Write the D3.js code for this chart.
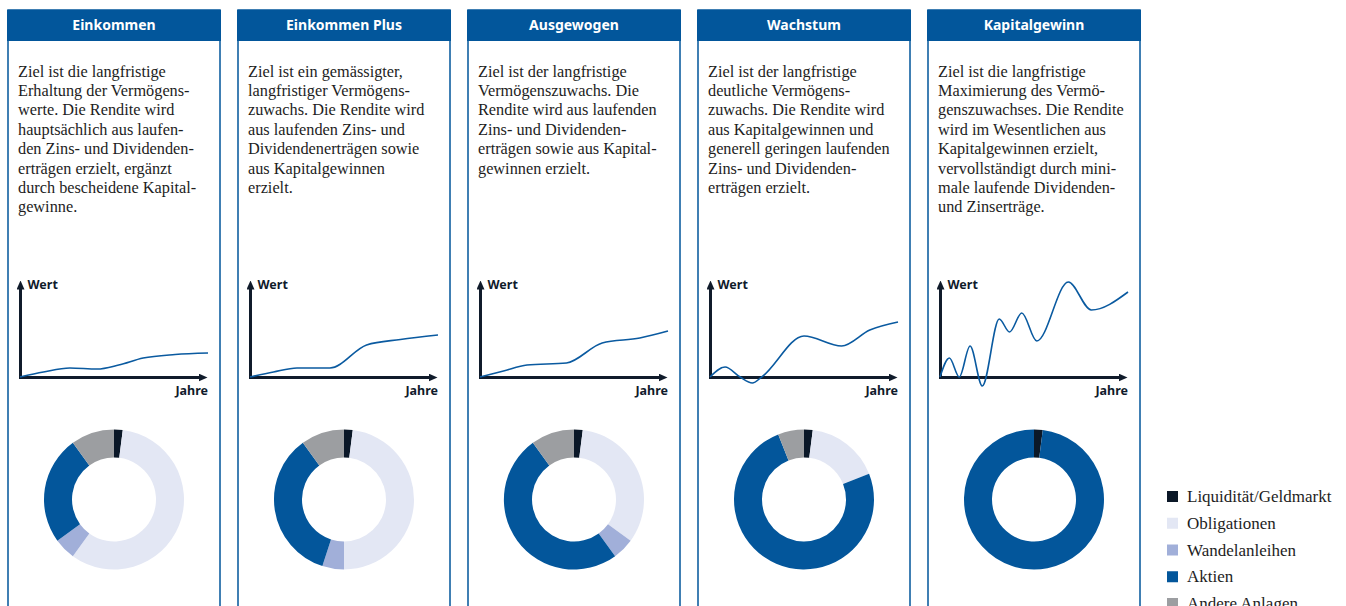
<!DOCTYPE html>
<html>
<head>
<meta charset="utf-8">
<script src="https://cdn.jsdelivr.net/npm/d3@7/dist/d3.min.js"></script>
<style>
    body { margin: 0; background: #fff; }
    svg { display: block; }
</style>
</head>
<body>
<svg id="chart"></svg>
<script>
// fund names
var funds = ['Einkommen', 'Einkommen Plus', 'Ausgewogen', 'Wachstum', 'Kapitalgewinn'];

// description lines (hyphenated as in the original)
var texts = [
    ['Ziel ist die langfristige', 'Erhaltung der Vermögens-', 'werte. Die Rendite wird', 'hauptsächlich aus laufen-',
     'den Zins- und Dividenden-', 'erträgen erzielt, ergänzt', 'durch bescheidene Kapital-', 'gewinne.'],
    ['Ziel ist ein gemässigter,', 'langfristiger Vermögens-', 'zuwachs. Die Rendite wird', 'aus laufenden Zins- und',
     'Dividendenerträgen sowie', 'aus Kapitalgewinnen', 'erzielt.'],
    ['Ziel ist der langfristige', 'Vermögenszuwachs. Die', 'Rendite wird aus laufenden', 'Zins- und Dividenden-',
     'erträgen sowie aus Kapital-', 'gewinnen erzielt.'],
    ['Ziel ist der langfristige', 'deutliche Vermögens-', 'zuwachs. Die Rendite wird', 'aus Kapitalgewinnen und',
     'generell geringen laufenden', 'Zins- und Dividenden-', 'erträgen erzielt.'],
    ['Ziel ist die langfristige', 'Maximierung des Vermö-', 'genszuwachses. Die Rendite', 'wird im Wesentlichen aus',
     'Kapitalgewinnen erzielt,', 'vervollständigt durch mini-', 'male laufende Dividenden-', 'und Zinserträge.']
];

// value curves: years and value per fund
var einkommenYears = [0, 2.5, 5.3, 8.2, 10.5, 13.1, 16.5, 20];
var einkommenValues = [0, 5, 9, 8, 12, 19, 22.5, 24];
var plusYears = [0, 2.5, 5, 8.5, 12.4, 16, 20];
var plusValues = [0, 5, 9, 9, 32, 37.5, 42];
var ausgewogenYears = [0, 2.5, 5, 9.2, 13, 17, 20];
var ausgewogenValues = [0, 6, 12, 14, 34, 39, 46];
var wachstumYears = [0, 1.6, 3.2, 4.5, 5.5, 10, 14, 17, 20];
var wachstumValues = [0, 10, 0, -6, 0, 41, 31, 47, 55];
var kapitalYears = [0, 1, 2.05, 3.2, 4.5, 6.3, 7.4, 8.7, 10.3, 13.65, 16.1, 20];
var kapitalValues = [0, 19, 0, 31, -9, 58, 45, 64, 36, 95, 67, 85];

var curveYears = [einkommenYears, plusYears, ausgewogenYears, wachstumYears, kapitalYears];
var curveValues = [einkommenValues, plusValues, ausgewogenValues, wachstumValues, kapitalValues];

// asset allocation in percent
var categories = ['Liquidität/Geldmarkt', 'Obligationen', 'Wandelanleihen', 'Aktien', 'Andere Anlagen'];
var colors = ['#0b1828', '#e3e7f4', '#a1afd9', '#03569b', '#9c9ea1'];
var allocEinkommen = [2, 58, 5, 25, 10];
var allocPlus = [2, 48, 5, 35, 10];
var allocAusgewogen = [2, 33, 5, 50, 10];
var allocWachstum = [2, 17, 0, 75, 6];
var allocKapital = [2, 0, 0, 98, 0];
var allocations = [allocEinkommen, allocPlus, allocAusgewogen, allocWachstum, allocKapital];

var width = 1346, height = 606;
var blue = '#02569b';
var dark = '#101b2b';

var svg = d3.select('#chart')
    .attr('width', width)
    .attr('height', height);

var defs = svg.append('defs');
defs.append('marker')
    .attr('id', 'arrow')
    .attr('viewBox', '0 0 9 8')
    .attr('refX', 1)
    .attr('refY', 4)
    .attr('markerWidth', 9)
    .attr('markerHeight', 8)
    .attr('markerUnits', 'userSpaceOnUse')
    .attr('orient', 'auto')
    .append('path')
    .attr('d', 'M0,0L9,4L0,8Z')
    .attr('fill', dark);

// scales shared by all panels (local panel coords)
var x = d3.scaleLinear().domain([0, 20]).range([13, 201]);
var y = d3.scaleLinear().domain([0, 100]).range([377, 277]);
var xAxisScale = d3.scaleLinear().domain([0, 20]).range([11.5, 192]);
var yAxisScale = d3.scaleLinear().domain([0, 100]).range([378.5, 288]);

var line = d3.line()
    .x(function(d) { return x(d[0]); })
    .y(function(d) { return y(d[1]); })
    .curve(d3.curveMonotoneX);

var pie = d3.pie().sort(null).value(function(d) { return d; });
var arc = d3.arc().innerRadius(42).outerRadius(70);

// 214px wide panels, 230px apart
var panelX = d3.scaleBand().domain(funds).range([7, 1141]).paddingInner(16 / 230);

funds.forEach(function(name, i) {
    var g = svg.append('g')
        .attr('transform', 'translate(' + panelX(name) + ',0)');
    var w = panelX.bandwidth();

    // frame
    g.append('rect')
        .attr('x', 1)
        .attr('y', 10)
        .attr('width', w - 2)
        .attr('height', 620)
        .attr('fill', 'none')
        .attr('stroke', blue)
        .attr('stroke-width', 1.5);

    // header
    g.append('rect')
        .attr('x', 0)
        .attr('y', 10)
        .attr('width', w)
        .attr('height', 31)
        .attr('fill', blue);
    g.append('text')
        .attr('x', w / 2)
        .attr('y', 30)
        .attr('text-anchor', 'middle')
        .attr('fill', '#fff')
        .style('font-family', '"Noto Sans", sans-serif')
        .style('font-weight', 'bold')
        .style('font-size', '14px')
        .text(name);

    // description
    g.append('g').selectAll('text')
        .data(texts[i])
        .enter().append('text')
        .attr('x', 11)
        .attr('y', function(d, k) { return 76.5 + k * 19.4; })
        .attr('fill', '#1d1d1d')
        .style('font-family', '"Liberation Serif", serif')
        .style('font-size', '16.3px')
        .text(function(d) { return d; });

    // axes
    var ax = g.append('g').attr('class', 'axes');
    ax.append('g')
        .attr('transform', 'translate(0,377)')
        .call(d3.axisBottom(xAxisScale).tickValues([]).tickSizeOuter(0));
    ax.append('g')
        .attr('transform', 'translate(13,0)')
        .call(d3.axisLeft(yAxisScale).tickValues([]).tickSizeOuter(0));
    ax.selectAll('.domain')
        .attr('stroke', dark)
        .attr('stroke-width', 3)
        .attr('marker-end', 'url(#arrow)');

    g.append('text')
        .attr('x', 20.5)
        .attr('y', 289)
        .attr('fill', dark)
        .style('font-family', '"Noto Sans", sans-serif')
        .style('font-weight', 'bold')
        .style('font-size', '12.5px')
        .text('Wert');
    g.append('text')
        .attr('x', 201)
        .attr('y', 395)
        .attr('text-anchor', 'end')
        .attr('fill', dark)
        .style('font-family', '"Noto Sans", sans-serif')
        .style('font-weight', 'bold')
        .style('font-size', '12.5px')
        .text('Jahre');

    // value curve
    var pts = d3.zip(curveYears[i], curveValues[i]);
    g.append('path')
        .datum(pts)
        .attr('d', line)
        .attr('fill', 'none')
        .attr('stroke', '#0a5aa0')
        .attr('stroke-width', 1.6);

    // allocation donut
    var donut = g.append('g')
        .attr('transform', 'translate(' + (w / 2) + ',499.5)');
    donut.selectAll('path')
        .data(pie(allocations[i]))
        .enter().append('path')
        .attr('d', arc)
        .attr('fill', function(d, k) { return colors[k]; });
});

// legend
var legend = svg.append('g')
    .attr('transform', 'translate(1167,0)')
    .selectAll('g')
    .data(categories)
    .enter().append('g')
    .attr('transform', function(d, i) { return 'translate(0,' + (496.5 + i * 26.75) + ')'; });

legend.append('rect')
    .attr('x', 0)
    .attr('y', -5.5)
    .attr('width', 11)
    .attr('height', 11)
    .attr('fill', function(d, i) { return colors[i]; });

legend.append('text')
    .attr('x', 20)
    .attr('y', 5.5)
    .attr('fill', '#1d1d1d')
    .style('font-family', '"Liberation Serif", serif')
    .style('font-size', '17px')
    .text(function(d) { return d; });
</script>
</body>
</html>
